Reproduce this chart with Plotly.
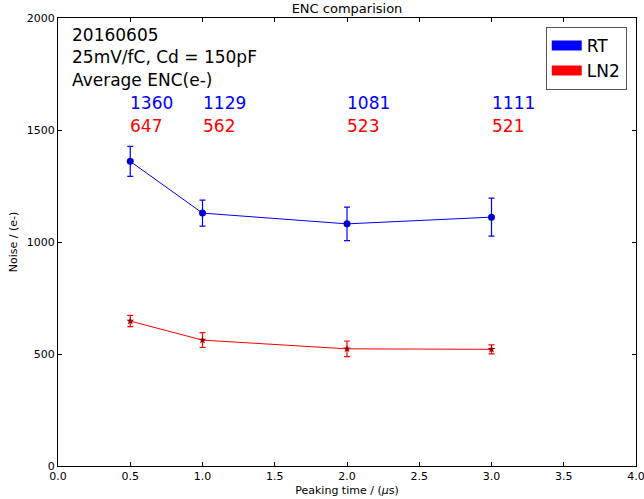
import plotly.graph_objects as go

peaking = [0.5, 1.0, 2.0, 3.0]
rt_enc = [1360, 1129, 1081, 1111]
rt_err = [67, 58, 75, 85]
ln2_enc = [647, 562, 523, 521]
ln2_err = [25, 33, 35, 20]
x_ticks = [0.0, 0.5, 1.0, 1.5, 2.0, 2.5, 3.0, 3.5, 4.0]
y_ticks = [0, 500, 1000, 1500, 2000]

FONT = "DejaVu Sans"
BLUE = "#0000ff"
RED = "#ff0000"

fig = go.Figure()
fig.add_trace(go.Scatter(
    x=peaking, y=rt_enc, mode="lines+markers", showlegend=False,
    line=dict(color=BLUE, width=1),
    marker=dict(color="#0000cc", size=7, symbol="circle"),
    error_y=dict(type="data", array=rt_err, color=BLUE, thickness=1.2, width=3),
))
fig.add_trace(go.Scatter(
    x=peaking, y=ln2_enc, mode="lines+markers", showlegend=False,
    line=dict(color=RED, width=1),
    marker=dict(color="#990000", size=6, symbol="star"),
    error_y=dict(type="data", array=ln2_err, color=RED, thickness=1.2, width=3),
))
# legend proxies
fig.add_trace(go.Scatter(x=[None], y=[None], mode="lines", name="RT",
                         line=dict(color=BLUE, width=12)))
fig.add_trace(go.Scatter(x=[None], y=[None], mode="lines", name="LN2",
                         line=dict(color=RED, width=12)))

# header text
for i, t in enumerate(["20160605", "25mV/fC, Cd = 150pF", "Average ENC(e-)"]):
    fig.add_annotation(x=0.1, y=1924 - i * 100, xref="x", yref="y", text=t,
                       showarrow=False, xanchor="left", yanchor="middle",
                       xshift=-2,
                       font=dict(family=FONT, size=17, color="black"))
for xv, v in zip(peaking, rt_enc):
    fig.add_annotation(x=xv, y=1620, xref="x", yref="y", text=str(v),
                       showarrow=False, xanchor="left", yanchor="middle",
                       xshift=-2,
                       font=dict(family=FONT, size=17, color=BLUE))
for xv, v in zip(peaking, ln2_enc):
    fig.add_annotation(x=xv, y=1520, xref="x", yref="y", text=str(v),
                       showarrow=False, xanchor="left", yanchor="middle",
                       xshift=-2,
                       font=dict(family=FONT, size=17, color=RED))

fig.update_layout(
    width=644, height=499,
    margin=dict(l=58, r=8, t=18, b=33, autoexpand=False),
    paper_bgcolor="white", plot_bgcolor="white",
    font=dict(family=FONT, size=11, color="black"),
    title=dict(text="ENC comparision", x=(58 + 636) / 2 / 644, xanchor="center",
               y=0.992, yanchor="top", font=dict(family=FONT, size=13)),
    legend=dict(x=0.984, y=0.98, xanchor="right", yanchor="top",
                bordercolor="#555555", borderwidth=1, bgcolor="white",
                font=dict(family=FONT, size=17), tracegroupgap=2),
    xaxis=dict(range=[0, 4], tickvals=x_ticks,
               ticktext=[f"{v:.1f}" for v in x_ticks],
               ticklabeloverflow="allow",
               showgrid=False, zeroline=False, showline=True,
               linecolor="black", linewidth=1, mirror="ticks",
               ticks="inside", ticklen=4, tickcolor="black", automargin=False,
               title=dict(text="Peaking time / (<i>μ</i>s)", standoff=4,
                          font=dict(family=FONT, size=11))),
    yaxis=dict(range=[0, 2000], tickvals=y_ticks,
               showgrid=False, zeroline=False, showline=True,
               linecolor="black", linewidth=1, mirror="ticks",
               ticks="inside", ticklen=4, tickcolor="black", automargin=False,
               title=dict(text="Noise / (e-)", standoff=6,
                          font=dict(family=FONT, size=11))),
)

fig.write_html(
    "out.html",
    config={"displayModeBar": False},
    post_script="document.body.style.margin='0';document.body.style.overflow='hidden';",
)
